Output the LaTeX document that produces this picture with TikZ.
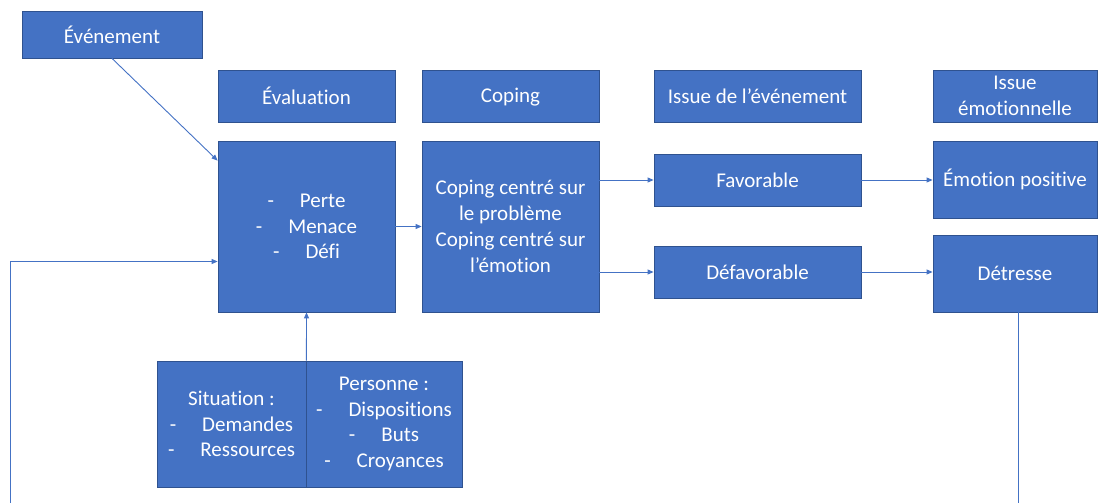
\documentclass[tikz,border=0pt]{standalone}
\usepackage{fontspec}
\setmainfont[Ligatures=NoCommon]{Carlito}
\usetikzlibrary{arrows.meta}
\definecolor{boxfill}{HTML}{4472C4}
\definecolor{boxline}{HTML}{2F528F}
\definecolor{linkcol}{HTML}{4472C4}
\begin{document}
\begin{tikzpicture}[x=1pt,y=-1pt]
    \tikzstyle{every node}+=[inner sep=0pt]
    \tikzstyle{box}=[draw=boxline, line width=0.8pt, fill=boxfill, text=white, align=center, font=\fontsize{21}{25.8}\selectfont]
    \tikzstyle{link}=[draw=linkcol, line width=0.9pt, -{Triangle[length=6pt,width=5pt]}]
    \useasboundingbox (0,0) rectangle (1100,503);
    \node [box, minimum width=180, minimum height=47] (event) at (112,34.5) {Événement};
    \node [box, minimum width=177, minimum height=52] (evalhead) at (306.5,96) {Évaluation};
    \node [box, minimum width=177, minimum height=52] (copinghead) at (510.5,96) {\vphantom{É}Coping};
    \node [box, minimum width=207, minimum height=52] (issuehead) at (757.5,96) {Issue de l’événement};
    \node [box, minimum width=164, minimum height=52] (emohead) at (1015,96) {Issue\\émotionnelle};
    \node [box, minimum width=177, minimum height=171] (evalmain) at (306.5,226.5) {-\hspace{26pt}Perte\\-\hspace{26pt}Menace\\-\hspace{26pt}Défi};
    \node [box, minimum width=177, minimum height=171] (copingmain) at (510.5,226.5) {Coping centré sur\\le problème\\Coping centré sur\\l’émotion};
    \node [box, minimum width=207, minimum height=52] (favorable) at (757.5,180) {Favorable};
    \node [box, minimum width=207, minimum height=52] (defavorable) at (757.5,272) {Défavorable};
    \node [box, minimum width=164, minimum height=77] (emopos) at (1015,179.5) {Émotion positive};
    \node [box, minimum width=164, minimum height=77] (detresse) at (1015,273.5) {Détresse};
    \node [box, minimum width=149, minimum height=126] (situation) at (231.5,424) {Situation :\\-\hspace{26pt}Demandes\\-\hspace{26pt}Ressources};
    \node [box, minimum width=156, minimum height=126] (personne) at (384,424) {Personne :\\-\hspace{26pt}Dispositions\\-\hspace{26pt}Buts\\-\hspace{26pt}Croyances};
    \coordinate (loopL) at (10,503);
    \coordinate (loopR) at (1018,503);
    \draw [link] (event.south) -- ([yshift=-20pt]evalmain.north west);
    \draw [link] (evalmain) -- (copingmain);
    \draw [link] (copingmain.east |- favorable) -- (favorable);
    \draw [link] (copingmain.east |- defavorable) -- (defavorable);
    \draw [link] (favorable) -- (emopos.west |- favorable);
    \draw [link] (defavorable) -- (detresse.west |- defavorable);
    \draw [link] (situation.north east) -- (evalmain.south);
    \draw [link] (loopL) |- ([yshift=-35pt]evalmain.west);
    \draw [draw=linkcol, line width=0.9pt] (detresse.south -| loopR) -- (loopR);
\end{tikzpicture}
\end{document}
